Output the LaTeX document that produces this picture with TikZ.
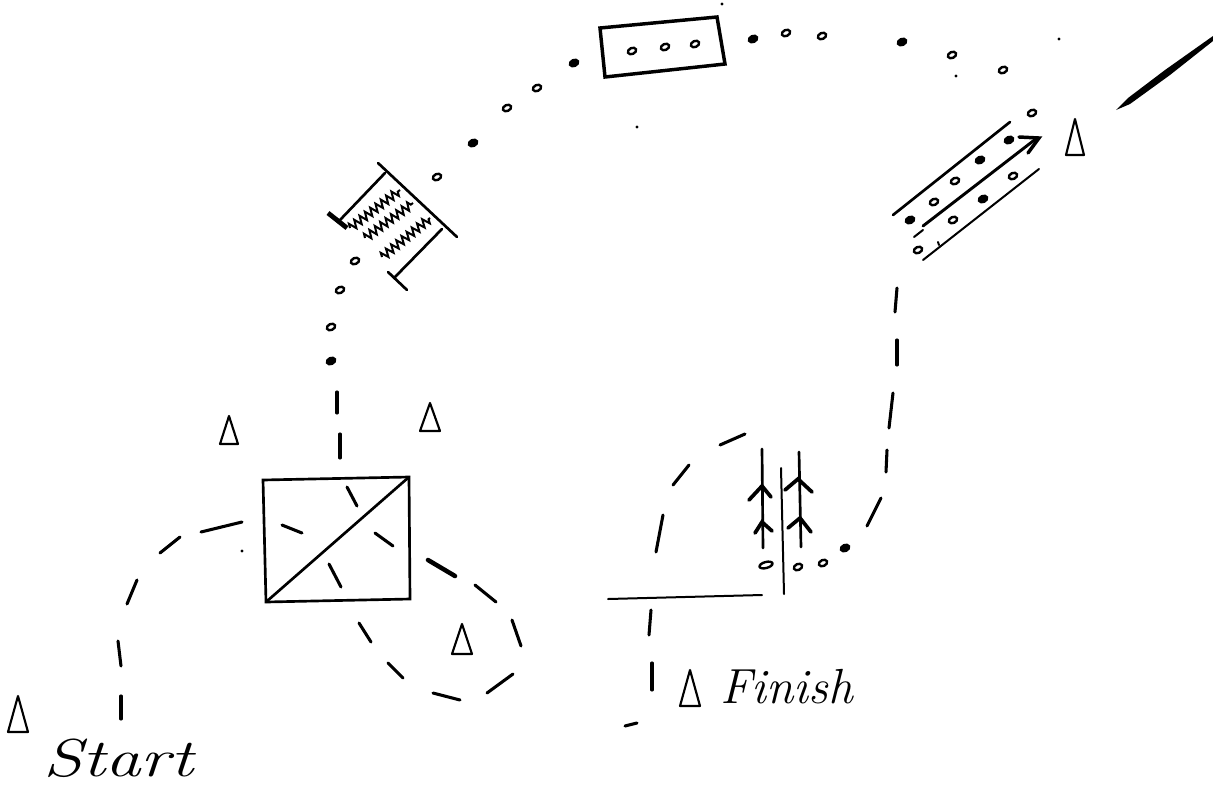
\documentclass[tikz,border=0pt]{standalone}
\usepackage{tikz}
\usetikzlibrary{shapes.geometric, decorations.pathmorphing}

\begin{document}
\begin{tikzpicture}[
  x=0.75pt, y=-0.75pt,
  course/.style={line width=2.3pt, line cap=round},
  rail/.style={line width=2pt, line cap=round},
  thin rail/.style={line width=1.5pt, line cap=round},
  cone/.style={line width=1.6pt, line join=round},
  pebble/.style={ellipse, draw, line width=1.8pt, inner sep=0pt, minimum width=6.5pt, minimum height=4.5pt, rotate=25},
  wave/.style={line width=1.5pt, decorate, decoration={zigzag, amplitude=3pt, segment length=5pt}},
  hand/.style={font=\fontsize{#1}{#1}\selectfont\itshape, inner sep=0pt, anchor=base west},
]
\useasboundingbox (0,0) rectangle (1213,786);

%% Dashed course
\foreach \xa/\ya/\xb/\yb in {
    121/696/121/719, 118/641/121/666, 127/604/137/580, 160/553/180/537, 201/532/242/522,
    282/525/302/533, 347/487/357/506, 375/533/393/546, 329/564/341/587,
    359/623/371/642, 388/663/403/678, 433/693/460/700, 487/693/513/674,
    337/392/337/413, 340/434/340/458, 512/620/521/646, 475/585/496/602,
    897/288/895/312, 897/340/897/365, 893/393/889/428, 887/450/886/472, 881/498/867/526,
    745/434/720/445, 689/465/673/485, 663/515/656/552,
    651/610/649/635, 652/663/652/690, 625/726/637/723}
  \draw[course] (\xa,\ya) -- (\xb,\yb);
\draw[course, line width=3.4pt] (428,560) -- (455,576);

%% Pebbles of the dotted part
\foreach \x/\y in {
    331/327, 340/290, 355/261, 437/177, 507/108, 537/88,
    632/51, 665/47, 695/44, 786/33, 822/36, 952/55, 1003/70, 1032/113,
    955/181, 934/202, 953/220, 1013/176, 918/250,
    798/567, 823/563}
  \node[pebble] at (\x,\y) {};
\foreach \x/\y in {331/361, 473/143, 574/63, 753/39, 902/42, 1009/140, 980/160, 910/220, 983/199, 845/548}
  \node[pebble, fill] at (\x,\y) {};
\node[pebble, minimum width=10pt, rotate=-10] at (766,565) {};

%% Specks
\foreach \x/\y in {1059/39, 956/76, 637/127, 722/4, 242/551}
  \fill (\x,\y) circle (1.2pt);

%% Cones
\foreach \x/\y/\w/\h in {229/430/9/14, 430/417/10/14, 462/639/10/15, 18/714/10/18, 1075/137/9/18, 690/688/10/18}
  \draw[cone] (\x-\w,\y+\h) -- (\x,\y-\h) -- (\x+\w,\y+\h) -- cycle;

%% Square with diagonal
\draw[rail] (263,480) -- (409,477) -- (410,599) -- (266,602) -- cycle;
\draw[rail] (266,602) -- (409,477);

%% Flat box at the top
\draw[rail, line width=2.6pt] (600,28) -- (717,17) -- (725,64) -- (605,77) -- cycle;

%% Water
\draw[rail] (378,163) -- (457,237);
\draw[rail] (385,173) -- (340,220);
\draw[line width=3.6pt] (328,213) -- (347,228);
\draw[rail] (442,229) -- (395,277);
\draw[rail] (388,272) -- (407,290);
\draw[wave] (350,228) -- (400,190);
\draw[wave] (365,238) -- (413,203);
\draw[wave] (382,257) -- (430,218);

%% Lanes
\draw[rail] (893,215) -- (1010,122);
\draw[rail, line width=2.2pt] (923,226) -- (1037,138);
\draw[thin rail] (914,237) -- (923,230);
\draw[thin rail] (923,260) -- (1039,169);
\draw[thin rail] (938,242) -- (939,245);
\draw[rail, line width=2.6pt] (1019,137) -- (1039,138) -- (1028,153);

%% Long stroke at the right edge
\fill (1116,110) -- (1128,98) -- (1165,70) -- (1213,36) -- (1213,41) -- (1170,75) -- (1130,104) -- cycle;

%% Finish gate
\draw[rail] (762,449) -- (763,548);
\draw[rail] (799,452) -- (801,547);
\draw[thin rail] (781,468) -- (784,594);
\draw[thin rail] (608,599) -- (762,595);
\foreach \xa/\ya/\xb/\yb/\xc/\yc in {
    749/500/762/486/771/497, 755/533/762/522/772/531,
    785/490/798/479/812/492, 788/528/800/518/811/532}
  \draw[course, line width=2.8pt] (\xa,\ya) -- (\xb,\yb) -- (\xc,\yc);

%% Labels
\node[hand=40] (start) at (43,776) {\scalebox{1.33}[1]{Start}};
\node[hand=37] (finish) at (720,703) {Finish};

\end{tikzpicture}
\end{document}
